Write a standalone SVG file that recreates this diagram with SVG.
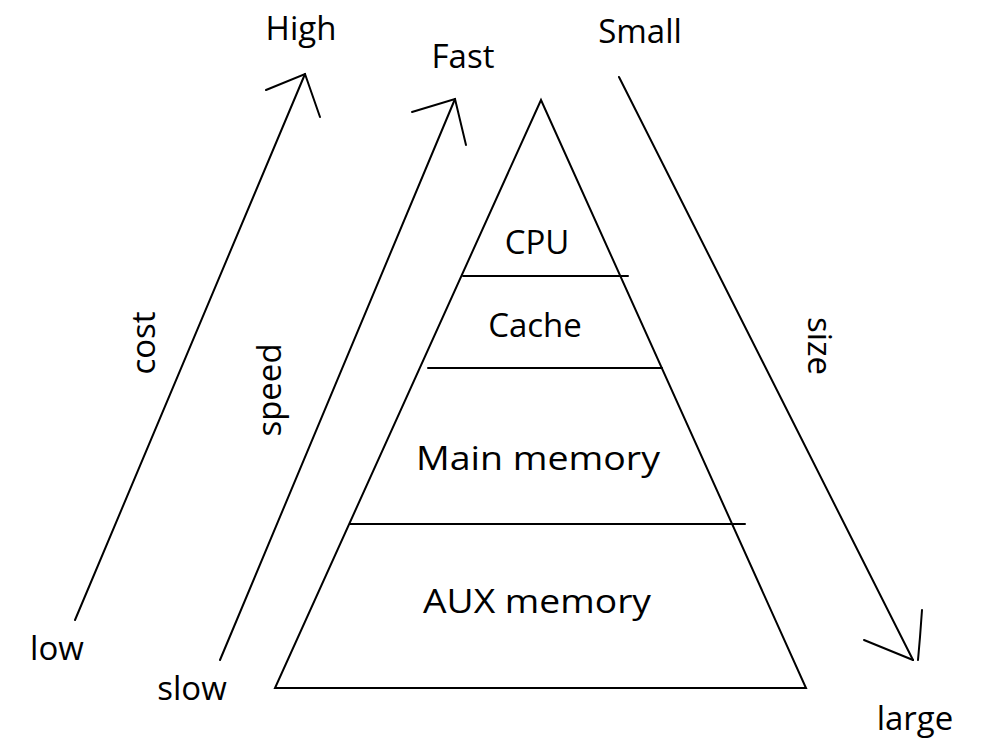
<svg xmlns="http://www.w3.org/2000/svg" width="984" height="745" viewBox="0 0 984 745">
<style>
.ln{stroke:#000;stroke-width:2;fill:none;stroke-linecap:round}
.t{font-family:"Open Sans","Liberation Sans",sans-serif;font-size:33px;fill:#000}
</style>
<rect width="984" height="745" fill="#fff"/>
<g id="pyramid">
<polygon class="ln" points="541,100 275,688 806,688"/>
<line class="ln" x1="463" y1="276" x2="628" y2="276"/>
<line class="ln" x1="428" y1="368" x2="662" y2="368"/>
<line class="ln" x1="350" y1="524" x2="745" y2="524"/>
</g>
<g id="node-cpu"><text class="t" x="537" y="254" text-anchor="middle">CPU</text></g>
<g id="node-cache"><text class="t" x="535" y="337" text-anchor="middle">Cache</text></g>
<g id="node-main"><text class="t" x="538" y="470" text-anchor="middle" textLength="244" lengthAdjust="spacingAndGlyphs">Main memory</text></g>
<g id="node-aux"><text class="t" x="537" y="613" text-anchor="middle" textLength="228" lengthAdjust="spacingAndGlyphs">AUX memory</text></g>
<g id="connectors">
<line class="ln" x1="75" y1="620" x2="305" y2="74"/>
<polyline class="ln" points="266,90 305,74 320,117"/>
<line class="ln" x1="220" y1="660" x2="455" y2="99"/>
<polyline class="ln" points="412,112 455,99 466,145"/>
<line class="ln" x1="619" y1="77" x2="913" y2="660"/>
<polyline class="ln" points="864,640 913,660"/>
<polyline class="ln" points="922,610 920,637 918,660"/>
</g>
<g id="labels">
<text class="t" x="301" y="40" text-anchor="middle">High</text>
<text class="t" x="463" y="68" text-anchor="middle">Fast</text>
<text class="t" x="640" y="43" text-anchor="middle">Small</text>
<text class="t" x="57" y="660" text-anchor="middle">low</text>
<text class="t" x="192" y="700" text-anchor="middle">slow</text>
<text class="t" x="915" y="730" text-anchor="middle">large</text>
<text class="t" transform="translate(155,343) rotate(-90)" text-anchor="middle">cost</text>
<text class="t" transform="translate(281,390) rotate(-90)" text-anchor="middle">speed</text>
<text class="t" transform="translate(808,346) rotate(90)" text-anchor="middle">size</text>
</g>
</svg>
